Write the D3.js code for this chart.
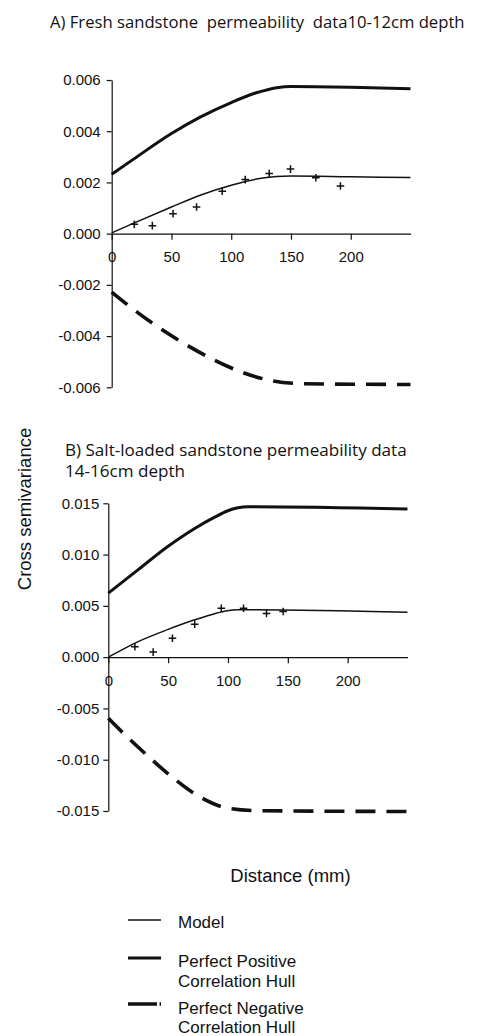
<!DOCTYPE html>
<html>
<head>
<meta charset="utf-8">
<script src="https://cdn.jsdelivr.net/npm/d3@7"></script>
<style>
  html, body { margin: 0; padding: 0; background: #fff; }
  svg { display: block; }
  .title { font-family: "Open Sans", "Noto Sans", sans-serif; fill: #111; white-space: pre; }
  .axis text { font-family: "Liberation Sans", Arial, sans-serif; font-size: 15px; fill: #111; }
  .axis path, .axis line { stroke: #111; stroke-width: 1.2; }
  .lab { font-family: "Liberation Sans", Arial, sans-serif; fill: #111; }
</style>
</head>
<body>
<svg id="chart" width="480" height="1036"></svg>
<script>
// ---------- data ----------
const xTicks = [0, 50, 100, 150, 200];
const yTicksA = [-0.006, -0.004, -0.002, 0, 0.002, 0.004, 0.006];
const yTicksB = [-0.015, -0.010, -0.005, 0, 0.005, 0.010, 0.015];

// Panel A: fresh sandstone 10-12 cm
const pointsA_dist = [18.9, 34.0, 51.3, 71.0, 92.5, 111.7, 131.8, 149.6, 170.8, 191.4];
const pointsA_val  = [0.000365, 0.000313, 0.00078, 0.00104, 0.00166, 0.00211, 0.00235, 0.00252, 0.00218, 0.00186];

const modelA_dist = [0, 18, 50, 74, 100, 121, 138, 150, 200, 250];
const modelA_val  = [0.00003, 0.00040, 0.00104, 0.00150, 0.00189, 0.00213, 0.00223, 0.00225, 0.00222, 0.00219];

const posA_dist = [0, 18, 50, 74, 100, 121, 138, 150, 200, 250];
const posA_val  = [0.00232, 0.00290, 0.00391, 0.00455, 0.00512, 0.00550, 0.00570, 0.00575, 0.00572, 0.00566];

const negA_dist = [0, 13.9, 34.8, 58.5, 82.2, 107.2, 133.7, 160.7, 250];
const negA_val  = [-0.00228, -0.00280, -0.00352, -0.00423, -0.00485, -0.00538, -0.00574, -0.00586, -0.00589];

// Panel B: salt-loaded sandstone 14-16 cm
const pointsB_dist = [22.2, 37.5, 53.6, 72.2, 94.4, 113.0, 132.2, 146.1];
const pointsB_val  = [0.00101, 0.00049, 0.00185, 0.00321, 0.00477, 0.00477, 0.00425, 0.00445];

const modelB_dist = [0, 25, 49.4, 72.2, 88.9, 99.4, 108.3, 116.7, 250];
const modelB_val  = [0.00000, 0.00152, 0.00268, 0.00364, 0.00424, 0.00452, 0.00461, 0.00462, 0.00438];

const posB_dist = [0, 25, 49.4, 72.2, 88.9, 99.4, 108.3, 116.7, 250];
const posB_val  = [0.00624, 0.00853, 0.01076, 0.01255, 0.01365, 0.01425, 0.01456, 0.01467, 0.01445];

const negB_dist = [0, 12.5, 31.9, 52.8, 73.6, 100, 126.4, 250];
const negB_val  = [-0.00595, -0.00741, -0.00952, -0.01164, -0.01342, -0.01472, -0.01497, -0.01505];

const legendLabels = [["Model"], ["Perfect Positive", "Correlation Hull"], ["Perfect Negative", "Correlation Hull"]];

// ---------- drawing ----------
const svg = d3.select("#chart");
const zip = (xs, ys) => xs.map((x, i) => [x, ys[i]]);
const fmt = d => d.toFixed(3);

function panel(cfg) {
  const x = d3.scaleLinear().domain([0, 250]).range(cfg.xRange);
  const y = d3.scaleLinear().domain(cfg.yDomain).range(cfg.yRange);
  const g = svg.append("g");

  // y axis
  g.append("g").attr("class", "axis")
    .attr("transform", `translate(${x(0)},0)`)
    .call(d3.axisLeft(y).tickValues(cfg.yTicks).tickFormat(fmt)
      .tickSize(5).tickSizeOuter(0).tickPadding(cfg.yPad));
  // x axis at y = 0
  g.append("g").attr("class", "axis")
    .attr("transform", `translate(0,${y(0)})`)
    .call(d3.axisBottom(x).tickValues(xTicks).tickFormat(d3.format("d"))
      .tickSize(6).tickSizeOuter(0).tickPadding(12));

  const line = d3.line().x(d => x(d[0])).y(d => y(d[1])).curve(d3.curveMonotoneX);

  g.append("path").datum(zip(cfg.posD, cfg.posV)).attr("d", line)
    .attr("fill", "none").attr("stroke", "#111").attr("stroke-width", 3);
  g.append("path").datum(zip(cfg.negD, cfg.negV)).attr("d", line)
    .attr("fill", "none").attr("stroke", "#111").attr("stroke-width", 3.6)
    .attr("stroke-dasharray", "20,11");
  g.append("path").datum(zip(cfg.modD, cfg.modV)).attr("d", line)
    .attr("fill", "none").attr("stroke", "#111").attr("stroke-width", 1.5);

  const s = 3.8;
  g.selectAll("path.pt").data(zip(cfg.ptD, cfg.ptV)).join("path")
    .attr("class", "pt")
    .attr("d", d => `M${x(d[0]) - s},${y(d[1])}H${x(d[0]) + s}M${x(d[0])},${y(d[1]) - s}V${y(d[1]) + s}`)
    .attr("stroke", "#111").attr("stroke-width", 1.5).attr("fill", "none");
}

panel({
  xRange: [111.7, 410.5], yDomain: [-0.006, 0.006], yRange: [387.3, 80], yTicks: yTicksA, yPad: 6,
  posD: posA_dist, posV: posA_val, negD: negA_dist, negV: negA_val,
  modD: modelA_dist, modV: modelA_val, ptD: pointsA_dist, ptV: pointsA_val
});
panel({
  xRange: [108.3, 407.5], yDomain: [-0.015, 0.015], yRange: [811, 503.3], yTicks: yTicksB, yPad: 4,
  posD: posB_dist, posV: posB_val, negD: negB_dist, negV: negB_val,
  modD: modelB_dist, modV: modelB_val, ptD: pointsB_dist, ptV: pointsB_val
});

// titles
const tA = svg.append("text").attr("class", "title").attr("x", 50).attr("y", 27.5)
  .style("font-size", "17px").text("A) Fresh sandstone  permeability  data10-12cm depth");
const tB1 = svg.append("text").attr("class", "title").attr("x", 65).attr("y", 456)
  .style("font-size", "17px").text("B) Salt-loaded sandstone permeability data");
const tB2 = svg.append("text").attr("class", "title").attr("x", 65).attr("y", 477)
  .style("font-size", "17px").text("14-16cm depth");
// fit title font size to measured widths
const wB = tB1.node().getComputedTextLength();
const fsB = 17 * 342 / wB;
tB1.style("font-size", fsB + "px"); tB2.style("font-size", fsB + "px");
const wA = tA.node().getComputedTextLength();
tA.style("font-size", (17 * 415 / wA) + "px");

// axis titles
svg.append("text").attr("class", "lab")
  .attr("transform", "translate(31,509) rotate(-90)")
  .attr("text-anchor", "middle").style("font-size", "18.5px").text("Cross semivariance");
svg.append("text").attr("class", "lab")
  .attr("x", 290.5).attr("y", 881.5).attr("text-anchor", "middle")
  .style("font-size", "18.5px").text("Distance (mm)");

// legend
const lg = svg.append("g");
const legY = [920, 958, 1004];
const legStyles = [
  { w: 1.5, dash: null },
  { w: 3, dash: null },
  { w: 3.6, dash: "29,2.5,1.5" }
];
const textY = [[928.3], [967, 986.5], [1013.5, 1033.3]];
legendLabels.forEach((lbls, i) => {
  lg.append("line").attr("x1", 128).attr("x2", 161).attr("y1", legY[i]).attr("y2", legY[i])
    .attr("stroke", "#111").attr("stroke-width", legStyles[i].w)
    .attr("stroke-dasharray", legStyles[i].dash);
  lbls.forEach((t, j) => {
    lg.append("text").attr("class", "lab").attr("x", 178).attr("y", textY[i][j])
      .style("font-size", "17px").text(t);
  });
});
</script>
</body>
</html>
